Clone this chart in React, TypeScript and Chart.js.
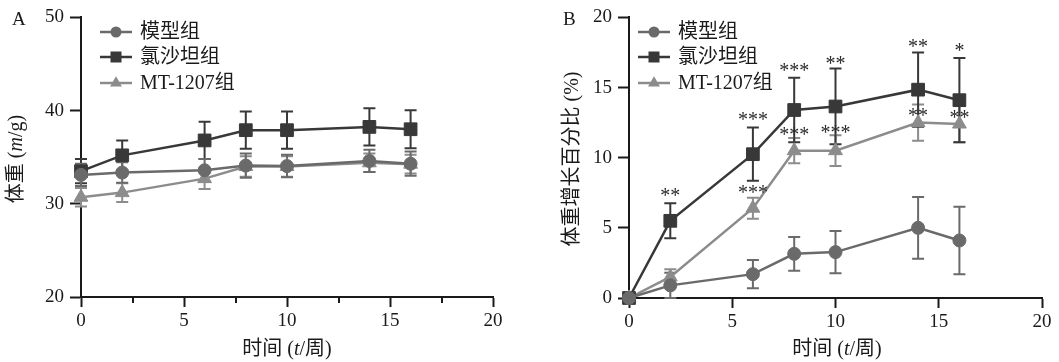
import React, { useEffect, useRef } from 'react';
import { Chart, registerables } from 'chart.js';

Chart.register(...registerables);

// ---------- data ----------
const weeks = [0, 2, 6, 8, 10, 14, 16];
const seriesNames = ['模型组', '氯沙坦组', 'MT-1207组'];
const seriesColors = ['#6a6a6a', '#383838', '#8c8c8c'];
const seriesMarkers = ['circle', 'rect', 'triangle'];

// Panel A: body weight (g)
const weightModel = [33.1, 33.35, 33.6, 34.1, 34.05, 34.6, 34.3];
const weightModelErr = [1.2, 1.1, 1.2, 1.3, 1.2, 1.2, 1.3];
const weightLosartan = [33.5, 35.2, 36.8, 37.9, 37.9, 38.25, 38.0];
const weightLosartanErr = [1.3, 1.6, 2.0, 2.0, 2.0, 2.0, 2.05];
const weightMT = [30.7, 31.2, 32.7, 34.0, 34.0, 34.4, 34.25];
const weightMTErr = [1.0, 1.0, 1.1, 1.1, 1.1, 1.0, 1.0];

// Panel B: weight gain (%)
const gainModel = [0, 0.9, 1.7, 3.15, 3.27, 5.0, 4.1];
const gainModelErr = [0, 0.9, 1.0, 1.2, 1.5, 2.2, 2.4];
const gainLosartan = [0, 5.5, 10.25, 13.4, 13.65, 14.85, 14.1];
const gainLosartanErr = [0, 1.25, 1.9, 2.3, 2.7, 2.65, 3.0];
const gainMT = [0, 1.5, 6.4, 10.5, 10.5, 12.5, 12.4];
const gainMTErr = [0, 0.55, 0.75, 0.9, 1.1, 1.3, 1.3];

// significance marks (label and the value at which it is written)
const gainLosartanStars = ['', '**', '***', '***', '**', '**', '*'];
const gainLosartanStarAt = [0, 7.57, 13.0, 16.45, 16.97, 18.15, 17.9];
const gainMTStars = ['', '', '***', '***', '***', '**', '**'];
const gainMTStarAt = [0, 0, 7.8, 11.9, 12.07, 13.25, 13.14];

const weightTicks = { min: 20, max: 50, step: 10 };
const gainTicks = { min: 0, max: 20, step: 5 };
const xTicks = { min: 0, max: 20, step: 5 };

// ---------- drawing helpers ----------
const SERIF = '"Liberation Serif", "Times New Roman", "Noto Sans CJK SC", serif';
const TEXT = '#1a1a1a';

function drawMarker(ctx: CanvasRenderingContext2D, kind: string, x: number, y: number, s: number, color: string) {
  ctx.save();
  ctx.fillStyle = color;
  ctx.beginPath();
  if (kind === 'circle') {
    ctx.arc(x, y, s, 0, Math.PI * 2);
  } else if (kind === 'rect') {
    ctx.rect(x - s, y - s, 2 * s, 2 * s);
  } else {
    const r = s * 1.25;
    ctx.moveTo(x, y - r);
    ctx.lineTo(x + r * 0.866, y + r * 0.5);
    ctx.lineTo(x - r * 0.866, y + r * 0.5);
    ctx.closePath();
  }
  ctx.fill();
  ctx.restore();
}

type Seg = { t: string; i?: boolean };

function drawSegs(ctx: CanvasRenderingContext2D, segs: Seg[], cx: number, cy: number, size: number, rotate: boolean) {
  ctx.save();
  ctx.translate(cx, cy);
  if (rotate) ctx.rotate(-Math.PI / 2);
  ctx.fillStyle = TEXT;
  ctx.textBaseline = 'middle';
  ctx.textAlign = 'left';
  let total = 0;
  const widths = segs.map((s) => {
    ctx.font = `${s.i ? 'italic ' : ''}${size}px ${SERIF}`;
    const w = ctx.measureText(s.t).width;
    total += w;
    return w;
  });
  let x = -total / 2;
  segs.forEach((s, k) => {
    ctx.font = `${s.i ? 'italic ' : ''}${size}px ${SERIF}`;
    ctx.fillText(s.t, x, 0);
    x += widths[k];
  });
  ctx.restore();
}

type Spec = {
  letter: string;
  letterX: number;
  yTitle: Seg[];
  yTitleX: number;
  xTitleX: number;
  yRange: { min: number; max: number; step: number };
  means: number[][];
  errs: number[][];
  stars: { labels: string[]; at: number[] }[];
  yAxisWidth: number;
  xAxisHeight: number;
  padRight: number;
  legendX: number;
  minorTicks: boolean;
};

function buildChart(canvas: HTMLCanvasElement, spec: Spec) {
  const overlay = {
    id: 'overlay',
    beforeDatasetsDraw(chart: any) {
      const ctx: CanvasRenderingContext2D = chart.ctx;
      const xs = chart.scales.x;
      const ys = chart.scales.y;
      ctx.save();
      for (let i = spec.means.length - 1; i >= 0; i--) {
        ctx.strokeStyle = seriesColors[i];
        ctx.lineWidth = 2;
        spec.means[i].forEach((v, j) => {
          const e = spec.errs[i][j];
          if (!e) return;
          const x = xs.getPixelForValue(weeks[j]);
          const yt = ys.getPixelForValue(v + e);
          const yb = ys.getPixelForValue(v - e);
          ctx.beginPath();
          ctx.moveTo(x, yt);
          ctx.lineTo(x, yb);
          ctx.moveTo(x - 6, yt);
          ctx.lineTo(x + 6, yt);
          ctx.moveTo(x - 6, yb);
          ctx.lineTo(x + 6, yb);
          ctx.stroke();
        });
      }
      ctx.restore();
    },
    afterDraw(chart: any) {
      const ctx: CanvasRenderingContext2D = chart.ctx;
      const xs = chart.scales.x;
      const ys = chart.scales.y;
      const area = chart.chartArea;
      ctx.save();
      // minor ticks
      if (spec.minorTicks) {
        ctx.strokeStyle = TEXT;
        ctx.lineWidth = 2;
        for (let v = xTicks.min + xTicks.step / 2; v < xTicks.max; v += xTicks.step) {
          const x = Math.round(xs.getPixelForValue(v));
          ctx.beginPath();
          ctx.moveTo(x, area.bottom);
          ctx.lineTo(x, area.bottom + 6);
          ctx.stroke();
        }
      }
      // stars
      ctx.fillStyle = '#2a2a2a';
      ctx.font = `20px ${SERIF}`;
      ctx.textAlign = 'center';
      ctx.textBaseline = 'alphabetic';
      spec.stars.forEach((st) => {
        st.labels.forEach((lab, j) => {
          if (!lab) return;
          const m = ctx.measureText(lab);
          const cy = ys.getPixelForValue(st.at[j]);
          const base = cy + (m.actualBoundingBoxAscent - m.actualBoundingBoxDescent) / 2;
          ctx.fillText(lab, xs.getPixelForValue(weeks[j]), base);
        });
      });
      // legend
      const rows = [32, 57, 83];
      seriesNames.forEach((name, i) => {
        const y = rows[i];
        ctx.strokeStyle = seriesColors[i];
        ctx.lineWidth = 2.5;
        ctx.beginPath();
        ctx.moveTo(spec.legendX, y);
        ctx.lineTo(spec.legendX + 32, y);
        ctx.stroke();
        drawMarker(ctx, seriesMarkers[i], spec.legendX + 16, y, 5.5, seriesColors[i]);
        ctx.fillStyle = TEXT;
        ctx.font = `20px ${SERIF}`;
        ctx.textAlign = 'left';
        ctx.textBaseline = 'middle';
        ctx.fillText(name, spec.legendX + 40, y + 1);
      });
      // panel letter
      ctx.font = `19px ${SERIF}`;
      ctx.textAlign = 'left';
      ctx.textBaseline = 'middle';
      ctx.fillStyle = TEXT;
      ctx.fillText(spec.letter, spec.letterX, 20);
      ctx.restore();
      // axis titles
      drawSegs(ctx, spec.yTitle, spec.yTitleX, 159, 20, true);
      drawSegs(ctx, [{ t: '时间 (' }, { t: 't', i: true }, { t: '/周)' }], spec.xTitleX, 350, 20, false);
    },
  };

  const datasets = spec.means.map((vals, i) => ({
    label: seriesNames[i],
    data: weeks.map((w, j) => ({ x: w, y: vals[j] })),
    borderColor: seriesColors[i],
    backgroundColor: seriesColors[i],
    pointBackgroundColor: seriesColors[i],
    pointBorderColor: seriesColors[i],
    pointStyle: seriesMarkers[i],
    pointRadius: seriesMarkers[i] === 'circle' ? 6.5 : seriesMarkers[i] === 'rect' ? 9 : 8,
    pointBorderWidth: 1,
    borderWidth: 2.5,
    tension: 0,
    clip: false as any,
  }));

  const tickFont = { family: SERIF, size: 19 };

  return new Chart(canvas, {
    type: 'line',
    data: { datasets },
    options: {
      responsive: false,
      animation: false,
      devicePixelRatio: 1,
      layout: { padding: { top: 17, right: spec.padRight, left: 0, bottom: 0 } },
      plugins: { legend: { display: false }, tooltip: { enabled: false }, title: { display: false } },
      events: [],
      scales: {
        x: {
          type: 'linear',
          min: xTicks.min,
          max: xTicks.max,
          ticks: { stepSize: xTicks.step, font: tickFont, color: TEXT, padding: 3, maxRotation: 0, autoSkip: false },
          grid: { drawOnChartArea: false, tickLength: 10, tickWidth: 2, tickColor: TEXT },
          border: { color: TEXT, width: 2 },
          afterFit: (s: any) => {
            s.height = spec.xAxisHeight;
          },
        },
        y: {
          type: 'linear',
          min: spec.yRange.min,
          max: spec.yRange.max,
          ticks: { stepSize: spec.yRange.step, font: tickFont, color: TEXT, padding: 6, autoSkip: false },
          grid: { drawOnChartArea: false, tickLength: 11, tickWidth: 2, tickColor: TEXT },
          border: { color: TEXT, width: 2 },
          afterFit: (s: any) => {
            s.width = spec.yAxisWidth;
          },
        },
      },
    } as any,
    plugins: [overlay],
  });
}

const specA: Spec = {
  letter: 'A',
  letterX: 12,
  yTitle: [{ t: '体重 (' }, { t: 'm', i: true }, { t: '/g)' }],
  yTitleX: 17,
  xTitleX: 287,
  yRange: weightTicks,
  means: [weightModel, weightLosartan, weightMT],
  errs: [weightModelErr, weightLosartanErr, weightMTErr],
  stars: [],
  yAxisWidth: 81,
  xAxisHeight: 65,
  padRight: 37,
  legendX: 100,
  minorTicks: true,
};

const specB: Spec = {
  letter: 'B',
  letterX: 33,
  yTitle: [{ t: '体重增长百分比 (%)' }],
  yTitleX: 43,
  xTitleX: 307,
  yRange: gainTicks,
  means: [gainModel, gainLosartan, gainMT],
  errs: [gainModelErr, gainLosartanErr, gainMTErr],
  stars: [
    { labels: gainLosartanStars, at: gainLosartanStarAt },
    { labels: gainMTStars, at: gainMTStarAt },
  ],
  yAxisWidth: 99,
  xAxisHeight: 64,
  padRight: 17,
  legendX: 108,
  minorTicks: false,
};

function Panel({ spec, left, width }: { spec: Spec; left: number; width: number }) {
  const ref = useRef<HTMLCanvasElement>(null);
  useEffect(() => {
    const chart = buildChart(ref.current!, spec);
    return () => chart.destroy();
  }, [spec]);
  return (
    <canvas
      ref={ref}
      width={width}
      height={362}
      style={{ position: 'absolute', left, top: 0, width, height: 362 }}
    />
  );
}

export default function App() {
  return (
    <div style={{ position: 'absolute', left: 0, top: 0, width: 1059, height: 362, background: '#fff' }}>
      <Panel spec={specA} left={0} width={530} />
      <Panel spec={specB} left={530} width={529} />
    </div>
  );
}
